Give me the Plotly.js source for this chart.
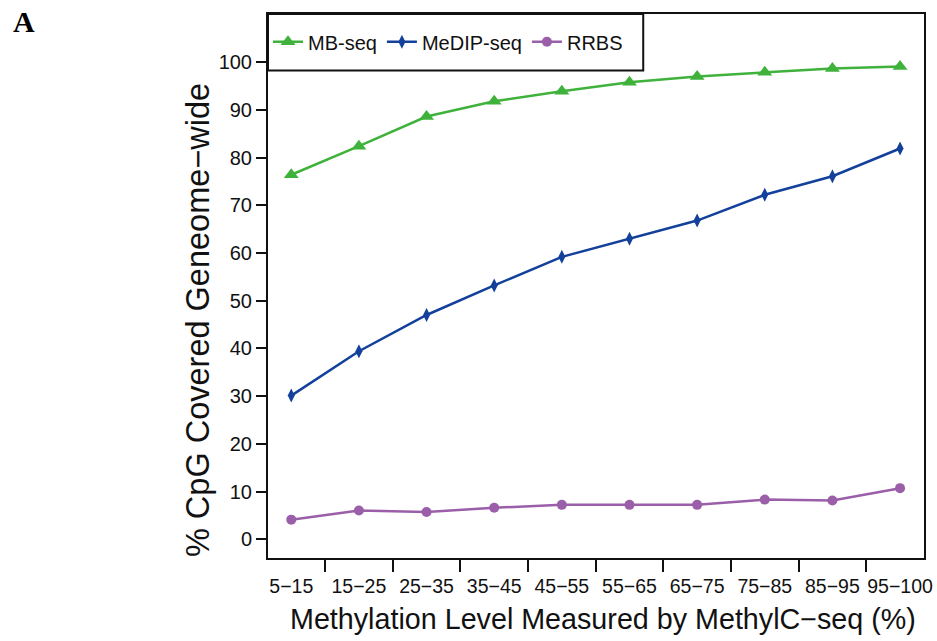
<!DOCTYPE html>
<html>
<head>
<meta charset="utf-8">
<script src="https://cdn.plot.ly/plotly-3.0.1.min.js"></script>
<style>
html,body{margin:0;padding:0;background:#fff;}
#chart{width:937px;height:641px;}
</style>
</head>
<body>
<div id="chart"></div>
<script>
// ---- data ----
const categories = ['5\u221215','15\u221225','25\u221235','35\u221245','45\u221255','55\u221265','65\u221275','75\u221285','85\u221295','95\u2212100'];
const mbSeq    = [76.4, 82.4, 88.6, 91.8, 93.9, 95.8, 97.0, 97.9, 98.7, 99.1];
const medipSeq = [30.1, 39.4, 47.0, 53.2, 59.2, 63.0, 66.8, 72.2, 76.1, 81.9];
const rrbs     = [4.1, 6.0, 5.7, 6.6, 7.2, 7.2, 7.2, 8.3, 8.1, 10.7];
const seriesNames = ['MB-seq', 'MeDIP-seq', 'RRBS'];
const yTicks = [0,10,20,30,40,50,60,70,80,90,100];

const FONT = 'Liberation Sans, Arial, sans-serif';
const traces = [
  {x: categories, y: mbSeq, name: seriesNames[0], type: 'scatter', mode: 'lines+markers',
   line: {color: '#3fb23b', width: 2.5}, marker: {symbol: 'triangle-up', size: 13, color: '#3fb23b'}},
  {x: categories, y: medipSeq, name: seriesNames[1], type: 'scatter', mode: 'lines+markers',
   line: {color: '#12409b', width: 2.5}, marker: {symbol: 'diamond-tall', size: 10, color: '#12409b'}},
  {x: categories, y: rrbs, name: seriesNames[2], type: 'scatter', mode: 'lines+markers',
   line: {color: '#9a5fa8', width: 2.5}, marker: {symbol: 'circle', size: 10, color: '#9a5fa8'}}
];

const layout = {
  width: 937, height: 641,
  margin: {l: 268, r: 13, t: 14, b: 83, autoexpand: false},
  paper_bgcolor: '#fff', plot_bgcolor: '#fff',
  font: {family: FONT, color: '#111', size: 20},
  showlegend: true,
  legend: {orientation: 'h', x: 0, y: 0.949, xanchor: 'left', yanchor: 'middle',
           borderwidth: 0, bgcolor: 'rgba(0,0,0,0)', font: {family: FONT, size: 20, color: '#111'}},
  xaxis: {type: 'category', range: [-0.344, 9.354], tickson: 'boundaries', tickangle: 0,
          ticks: 'outside', ticklen: 12, tickwidth: 2, tickcolor: '#111', ticklabelstandoff: 10,
          showline: true, linecolor: '#111', linewidth: 2, mirror: true,
          showgrid: false, zeroline: false, tickfont: {family: FONT, size: 19.5, color: '#111'},
          fixedrange: true},
  yaxis: {range: [-3.94, 110.1], tickvals: yTicks, ticktext: yTicks.map(String),
          ticks: 'outside', ticklen: 10, tickwidth: 2, tickcolor: '#111',
          showline: true, linecolor: '#111', linewidth: 2, mirror: true,
          showgrid: false, zeroline: false, tickfont: {family: FONT, size: 20, color: '#111'},
          fixedrange: true},
  shapes: [
    {type: 'rect', xref: 'paper', yref: 'paper', x0: 0, x1: 0.572, y0: 0.896, y1: 1,
     line: {color: '#111', width: 2}, fillcolor: 'rgba(0,0,0,0)', layer: 'above'}
  ],
  annotations: [
    {text: 'Methylation Level Measured by MethylC\u2212seq (%)', xref: 'paper', yref: 'paper',
     x: 0.511, y: -0.1116, xanchor: 'center', yanchor: 'middle', showarrow: false,
     font: {family: FONT, size: 28.7, color: '#111'}},
    {text: '% CpG Covered Geneome\u2212wide', xref: 'paper', yref: 'paper', textangle: -90,
     x: -0.1077, y: 0.438, xanchor: 'center', yanchor: 'middle', showarrow: false,
     font: {family: FONT, size: 32.5, color: '#111'}},
    {text: '<b>A</b>', xref: 'paper', yref: 'paper', x: -0.392, y: 1.02,
     xanchor: 'left', yanchor: 'top', showarrow: false,
     font: {family: 'Liberation Serif, Times New Roman, serif', size: 30, color: '#000'}}
  ]
};

Plotly.newPlot('chart', traces, layout, {staticPlot: true, displayModeBar: false});
</script>
</body>
</html>
